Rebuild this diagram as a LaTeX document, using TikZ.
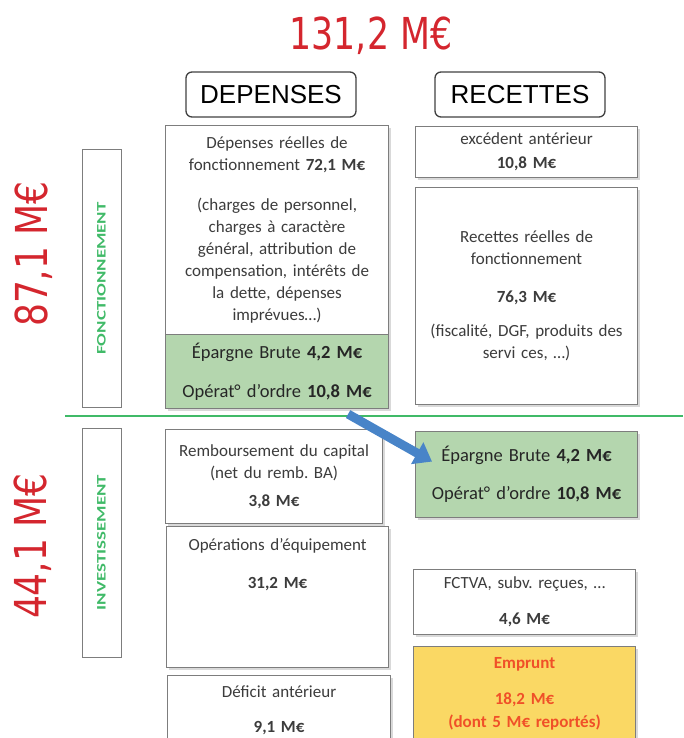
\documentclass[tikz,border=0pt]{standalone}
\usepackage{fontspec}
\setmainfont{Carlito}
\newfontfamily\headfont{Liberation Sans}
\newfontfamily\bigfont{DejaVu Sans}
\usetikzlibrary{shadows,arrows.meta}
\frenchspacing

\definecolor{boxgray}{RGB}{125,125,125}
\definecolor{txtgray}{RGB}{60,60,60}
\definecolor{bigred}{RGB}{212,38,46}
\definecolor{sepgreen}{RGB}{64,186,104}
\definecolor{epgreen}{RGB}{180,214,174}
\definecolor{empyellow}{RGB}{250,216,100}
\definecolor{emporange}{RGB}{240,80,40}
\definecolor{arrblue}{RGB}{72,132,200}

\tikzset{
  bigtotal/.style={text=bigred, font=\bigfont\fontsize{44}{48}\selectfont, inner sep=0pt},
  header/.style={draw=black!75, line width=1.3pt, rounded corners=6pt, font=\headfont\fontsize{26}{30}\selectfont, inner sep=0pt},
  section/.style={draw=boxgray, line width=1pt, text=sepgreen, font=\bfseries\fontsize{13}{15}\selectfont, inner sep=0pt},
  budget/.style={draw=boxgray, line width=1.1pt, fill=white, anchor=north west, inner sep=0pt,
    align=center, text=txtgray, font=\fontsize{17}{22}\selectfont,
    drop shadow={shadow xshift=2pt, shadow yshift=-2pt, opacity=0.3}},
  epargne/.style={budget, fill=epgreen, text=black!85, font=\fontsize{18.5}{22}\selectfont},
  emprunt/.style={budget, fill=empyellow, text=emporange, font=\bfseries\fontsize{17}{22}\selectfont},
  sepline/.style={draw=sepgreen, line width=2.2pt},
  flow/.style={draw=arrblue, line width=9pt, -{Triangle[width=24pt,length=17pt]}}
}

\begin{document}
\begin{tikzpicture}[x=1pt,y=-1pt]
\clip (0,0) rectangle (683,738);

% totaux
\node[bigtotal, anchor=base] (total) at (371,50) {\scalebox{0.79}[1]{131,2 M€}};
\node[bigtotal, rotate=90, anchor=base] (totF) at (47,254) {\scalebox{0.82}[1]{87,1 M€}};
\node[bigtotal, rotate=90, anchor=base] (totI) at (46,546) {\scalebox{0.82}[1]{44,1 M€}};

% en-tetes
\node[header, minimum width=170pt, minimum height=45pt] (dep) at (271,94.5) {DEPENSES};
\node[header, minimum width=170pt, minimum height=45pt] (rec) at (520,94.5) {RECETTES};

% sections
\node[section, minimum width=39pt, minimum height=257pt] (fonc) at (101.5,278.5)
  {\rotatebox{90}{\scalebox{1.45}[1]{FONCTIONNEMENT}}};
\node[section, minimum width=39pt, minimum height=229pt] (inv) at (101.5,542.5)
  {\rotatebox{90}{\scalebox{1.45}[1]{INVESTISSEMENT}}};

\draw[sepline] (65,416) -- (683,416);

% depenses
\node[budget, minimum width=223pt, minimum height=209pt, text width=217pt] (depF) at (165,125)
  {Dépenses réelles de\\fonctionnement \textbf{72,1 M€}\\[18pt]
   (charges de personnel,\\charges à caractère\\général, attribution de\\
   compensation, intérêts de\\la dette, dépenses\\imprévues…)};
\node[epargne, minimum width=223pt, minimum height=74pt, text width=217pt] (epF) at (165,334)
  {Épargne Brute \textbf{4,2 M€}\\[17pt]Opérat° d’ordre \textbf{10,8 M€}};
\node[budget, minimum width=217pt, minimum height=94pt, text width=211pt] (remb) at (165,429)
  {Remboursement du capital\\(net du remb. BA)\\[6pt]\textbf{3,8 M€}};
\node[budget, minimum width=222pt, minimum height=141pt, text width=216pt] (equip) at (166,526)
  {Opérations d’équipement\\[16pt]\textbf{31,2 M€}\\[45pt]\mbox{}};
\node[budget, minimum width=223pt, minimum height=70pt, text width=217pt] (deficit) at (167,675)
  {Déficit antérieur\\[13pt]\textbf{9,1 M€}};

% recettes
\node[budget, minimum width=222pt, minimum height=51pt, text width=216pt] (excF) at (415,126)
  {excédent antérieur\\[2pt]\textbf{10,8 M€}};
\node[budget, minimum width=222pt, minimum height=217pt, text width=216pt] (recF) at (415,187)
  {Recettes réelles de\\fonctionnement\\[16pt]\textbf{76,3 M€}\\[12pt]
   (fiscalité, DGF, produits des\\servi ces, …)};
\node[epargne, minimum width=222pt, minimum height=86pt, text width=216pt] (epI) at (415,431)
  {Épargne Brute \textbf{4,2 M€}\\[16pt]Opérat° d’ordre \textbf{10,8 M€}};
\node[budget, minimum width=222pt, minimum height=65pt, text width=216pt] (fctva) at (413,569)
  {FCTVA, subv. reçues, …\\[14pt]\textbf{4,6 M€}};
\node[emprunt, minimum width=222pt, minimum height=95pt, text width=216pt] (empr) at (413,646)
  {Emprunt\\[14pt]18,2 M€\\[1pt](dont 5 M€ reportés)};

% virement
\coordinate (arrowS) at ([xshift=-41pt, yshift=-5pt]epF.south east);
\coordinate (arrowE) at ([xshift=17pt, yshift=13pt]epI.west);
\draw[flow] (arrowS) -- (arrowE);
\end{tikzpicture}
\end{document}
